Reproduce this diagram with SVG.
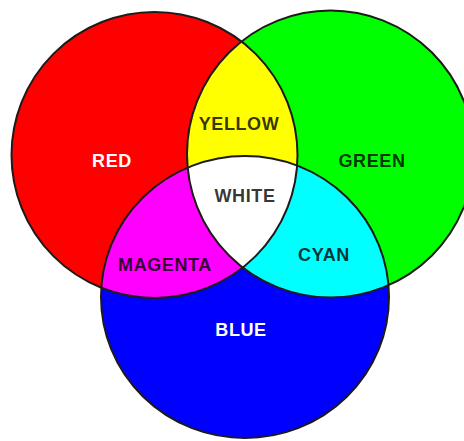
<svg xmlns="http://www.w3.org/2000/svg" width="464" height="441" viewBox="0 0 464 441">
<style>
.lbl{font-family:"Liberation Sans",Arial,sans-serif;font-weight:bold;font-size:18px;text-anchor:middle;letter-spacing:0.6px}
.lt{fill:#ffffff}
.dk{fill:#000000;fill-opacity:0.8}
.edge{fill:none;stroke:#1e1a1a;stroke-width:2}
</style>
<defs>
<circle id="cR" cx="154.5" cy="155" r="143"/>
<circle id="cG" cx="330.5" cy="154" r="143.5"/>
<ellipse id="cB" cx="245" cy="297" rx="144" ry="141"/>
<clipPath id="clipR"><use href="#cR"/></clipPath>
<clipPath id="clipG"><use href="#cG"/></clipPath>
<clipPath id="clipB"><use href="#cB"/></clipPath>
</defs>
<rect width="464" height="441" fill="#ffffff"/>
<g id="red">
<use href="#cR" fill="#ff0000"/>
<text class="lbl lt" x="112" y="167">RED</text>
</g>
<g id="green">
<use href="#cG" fill="#00ff00"/>
<text class="lbl dk" x="372" y="167">GREEN</text>
</g>
<g id="blue">
<use href="#cB" fill="#0000ff"/>
<text class="lbl lt" x="241" y="336">BLUE</text>
</g>
<g id="yellow">
<g clip-path="url(#clipR)"><use href="#cG" fill="#ffff00"/></g>
<text class="lbl dk" x="239" y="130">YELLOW</text>
</g>
<g id="magenta">
<g clip-path="url(#clipR)"><use href="#cB" fill="#ff00ff"/></g>
<text class="lbl dk" x="165" y="271">MAGENTA</text>
</g>
<g id="cyan">
<g clip-path="url(#clipG)"><use href="#cB" fill="#00ffff"/></g>
<text class="lbl dk" x="324" y="261">CYAN</text>
</g>
<g id="white">
<g clip-path="url(#clipG)"><g clip-path="url(#clipR)"><use href="#cB" fill="#ffffff"/></g></g>
<text class="lbl dk" x="245" y="202">WHITE</text>
</g>
<g id="outlines">
<use href="#cR" class="edge"/>
<use href="#cG" class="edge"/>
<use href="#cB" class="edge"/>
</g>
</svg>
